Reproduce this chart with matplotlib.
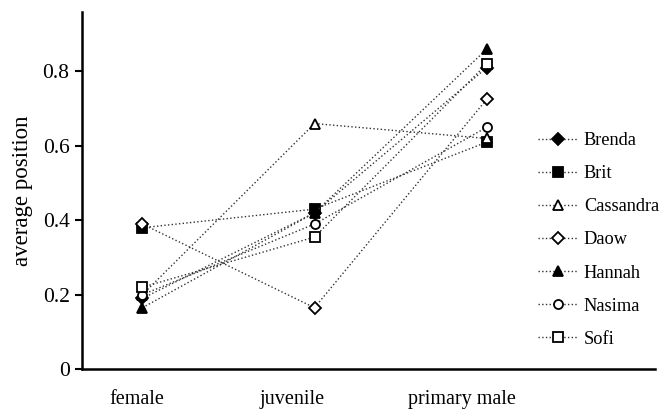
import numpy as np
import matplotlib.pyplot as plt
import matplotlib.transforms as mtransforms

categories = ['female', 'juvenile', 'primary male']
names = ['Brenda', 'Brit', 'Cassandra', 'Daow', 'Hannah', 'Nasima', 'Sofi']
brenda = [0.19, 0.42, 0.81]
brit = [0.38, 0.43, 0.61]
cassandra = [0.20, 0.66, 0.62]
daow = [0.39, 0.165, 0.725]
hannah = [0.165, 0.42, 0.86]
nasima = [0.20, 0.39, 0.65]
sofi = [0.22, 0.355, 0.82]

series = [brenda, brit, cassandra, daow, hannah, nasima, sofi]
markers = ['D', 's', '^', 'D', '^', 'o', 's']
filled = [True, True, False, False, True, False, False]
msizes = [6, 7, 7.5, 6, 7.5, 6.5, 7]

plt.rcParams['font.family'] = ['Liberation Serif', 'DejaVu Serif']

fig = plt.figure(figsize=(6.62, 4.12), dpi=100)
ax = fig.add_axes([0.124, 0.104, 0.866, 0.867])

x = np.arange(1, len(categories) + 1)
for name, vals, m, f, ms in zip(names, series, markers, filled, msizes):
    ax.plot(x, vals, linestyle=':', color='#333333', linewidth=1.0,
            marker=m, markersize=ms, markeredgecolor='black', markeredgewidth=1.3,
            markerfacecolor='black' if f else 'white', label=name)

ax.set_xlim(0.65, 3.98)
ax.set_ylim(0, 0.96)
ax.set_yticks([0, 0.2, 0.4, 0.6, 0.8])
ax.set_yticklabels(['0', '0.2', '0.4', '0.6', '0.8'])
ax.set_xticks(x)
ax.set_xticklabels(categories)
ax.tick_params(axis='x', length=0, pad=15, labelsize=14.5)
ax.tick_params(axis='y', length=5, width=1.5, pad=4, labelsize=15.5)
# the category labels sit a little left of their points in the original
for lab, dx in zip(ax.get_xticklabels(), [-6, -22, -25]):
    lab.set_transform(lab.get_transform() +
                      mtransforms.ScaledTranslation(dx / 100, 0, fig.dpi_scale_trans))
for s in ['top', 'right']:
    ax.spines[s].set_visible(False)
for s in ['left', 'bottom']:
    ax.spines[s].set_linewidth(1.8)
ax.set_ylabel('average position', fontsize=16.5, labelpad=7)

ax.legend(loc='upper left', bbox_to_anchor=(538 / 662, 1 - 132 / 412),
          bbox_transform=fig.transFigure, frameon=False, fontsize=13.2,
          handlelength=2.2, handletextpad=0.3, labelspacing=0.88,
          borderpad=0, borderaxespad=0, numpoints=1)

fig.savefig('out.png', dpi=100)
